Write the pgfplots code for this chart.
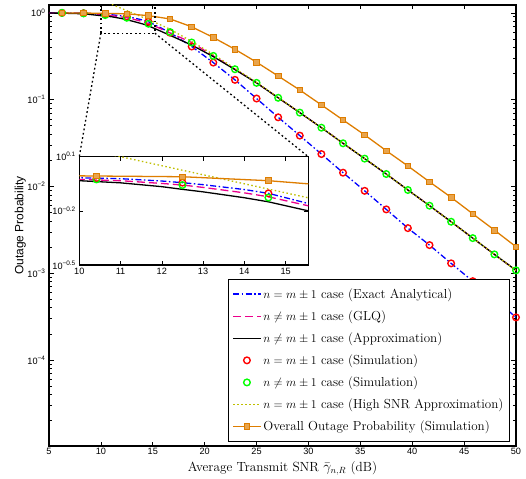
\documentclass[border=0pt]{standalone}
\usepackage{fontspec}
\setsansfont{Liberation Sans}
\usepackage{pgfplots}
\pgfplotsset{compat=1.18}
\usepackage{pgfplotstable}
\definecolor{myorange}{rgb}{0.87,0.49,0.0}
\definecolor{myyellow}{rgb}{0.75,0.75,0.0}
\definecolor{mygreen}{rgb}{0,1,0}
\newcommand\pw[1]{\textsf{10\textsuperscript{#1}}}
\newcommand\tickfont{\sffamily\fontsize{9.2}{11}\selectfont}

\pgfplotstableread{
x y
5 0.998
6.25 0.997
8.333 0.99
10 0.962
11 0.951
12 0.923
12.5 0.904
13 0.881
14 0.828
14.583 0.789
15.55 0.693
16.667 0.59
18.75 0.409
20.833 0.267
22.917 0.169
25 0.103
27.083 0.0626
29.167 0.0385
31.25 0.0236
33.333 0.0144
35.417 0.0089
37.5 0.00544
39.583 0.00331
41.667 0.00211
43.75 0.0013
45.833 0.00081
47.917 0.00051
50 0.00031
}\exact

\pgfplotstableread{
x y
5 0.998
6.25 0.995
8.333 0.982
10 0.942
11 0.927
12 0.895
12.5 0.877
13 0.851
14 0.794
14.583 0.755
15.55 0.673
16.667 0.586
18.75 0.455
20.833 0.319
22.917 0.224
25 0.156
27.083 0.105
29.167 0.0708
31.25 0.0475
33.333 0.0314
35.417 0.0209
37.5 0.0139
39.583 0.0091
41.667 0.0060
43.75 0.00392
45.833 0.00254
47.917 0.00165
50 0.00108
}\glq

\pgfplotstableread{
x y
5 0.994
6.25 0.99
8.333 0.975
10 0.927
11 0.902
12 0.859
12.5 0.830
13 0.804
14 0.746
14.583 0.708
15.55 0.631
16.667 0.55
18.75 0.425
20.833 0.313
22.917 0.222
25 0.156
27.083 0.105
29.167 0.0708
31.25 0.0475
33.333 0.0314
35.417 0.0209
37.5 0.0139
39.583 0.0091
41.667 0.0060
43.75 0.00392
45.833 0.00254
47.917 0.00165
50 0.00108
}\approxi

\pgfplotstableread{
x y
6.25 0.998
8.333 0.99
10.417 0.957
12.5 0.904
14.583 0.789
16.667 0.59
18.75 0.409
20.833 0.267
22.917 0.169
25 0.103
27.083 0.0626
29.167 0.0385
31.25 0.0236
33.333 0.0144
35.417 0.0089
37.5 0.00544
39.583 0.00331
41.667 0.00211
43.75 0.0013
45.833 0.00081
47.917 0.00051
50 0.00031
}\simeqT

\pgfplotstableread{
x y
6.25 0.998
8.333 0.985
10.417 0.942
12.5 0.877
14.583 0.748
16.667 0.60
18.75 0.455
20.833 0.319
22.917 0.224
25 0.156
27.083 0.105
29.167 0.0708
31.25 0.0475
33.333 0.0314
35.417 0.0209
37.5 0.0139
39.583 0.0091
41.667 0.0060
43.75 0.00392
45.833 0.00254
47.917 0.00165
50 0.00108
}\simneT

\pgfplotstableread{
x y
10 1.41
11 1.259
13 1.0
15.55 0.745
16.667 0.646
18.75 0.468
20.833 0.331
22.917 0.229
25 0.158
27.083 0.106
29.167 0.0712
31.25 0.0477
33.333 0.0315
35.417 0.021
37.5 0.0139
39.583 0.0091
41.667 0.006
43.75 0.00392
45.833 0.00254
47.917 0.00165
50 0.00108
}\highsnr

\pgfplotstableread{
x y
6.25 0.998
8.333 0.995
10.417 0.984
12.5 0.975
14.583 0.927
16.667 0.85
18.75 0.69
20.833 0.52
22.917 0.38
25 0.27
27.083 0.187
29.167 0.129
31.25 0.0869
33.333 0.0583
35.417 0.0392
37.5 0.0258
39.583 0.0172
41.667 0.0113
43.75 0.00748
45.833 0.00484
47.917 0.00314
50 0.00202
}\overall

\tikzset{
  blueS/.style={blue, line width=1.3pt, dash pattern=on 6bp off 2.5bp on 1.5bp off 2.5bp},
  magS/.style={magenta, line width=1.3pt, dash pattern=on 8bp off 4bp},
  blkS/.style={black, line width=1.3pt},
  redS/.style={only marks, mark=o, mark size=3.3bp, red, mark options={line width=1.4pt, solid}},
  grnS/.style={only marks, mark=o, mark size=3.3bp, mygreen, mark options={line width=1.4pt, solid}},
  yelS/.style={myyellow, line width=1.3pt, dash pattern=on 1.5bp off 2.5bp},
  oraS/.style={myorange, line width=1.3pt, mark=square*, mark size=2.8bp, mark options={fill=myorange!70!white, draw=myorange, line width=0.8pt, solid}},
  boxS/.style={black, line width=1.3pt, dash pattern=on 1.8bp off 2.6bp},
}

\begin{document}
\begin{tikzpicture}
\path (-49bp,-33bp) rectangle (477bp,446bp);
\begin{axis}[name=main, at={(0,0)}, anchor=south west,
  width=467bp, height=441bp, scale only axis,
  xmin=5, xmax=50, ymode=log, ymin=1.0233e-5, ymax=1.2303,
  xtick={5,10,...,50},
  ytick={1e-4,1e-3,1e-2,1e-1,1},
  yticklabels={\pw{−4},\pw{−3},\pw{−2},\pw{−1},\pw{0}},
  minor ytick={2e-5,3e-5,4e-5,5e-5,6e-5,7e-5,8e-5,9e-5,
    2e-4,3e-4,4e-4,5e-4,6e-4,7e-4,8e-4,9e-4,
    2e-3,3e-3,4e-3,5e-3,6e-3,7e-3,8e-3,9e-3,
    2e-2,3e-2,4e-2,5e-2,6e-2,7e-2,8e-2,9e-2,
    2e-1,3e-1,4e-1,5e-1,6e-1,7e-1,8e-1,9e-1},
  tick align=inside, major tick length=4.5bp, minor tick length=2.5bp,
  tick style={black, line width=0.6pt},
  axis line style={line width=1.1pt},
  ticklabel style={font=\tickfont},
  xticklabel style={yshift=-0.5bp, inner sep=1.5bp},
  /pgf/number format/assume math mode=true,
  xlabel={Average Transmit SNR $\bar{\gamma}_{n,R}$ (dB)},
  xlabel style={font=\fontsize{13.3}{15}\selectfont, at={(axis description cs:0.5,-0.0345)}, anchor=north, inner sep=0pt},
  ylabel={Outage Probability},
  ylabel style={font=\sffamily\fontsize{12}{14}\selectfont, at={(axis description cs:-0.049,0.5)}, anchor=south, inner sep=0pt},
  legend style={at={(axis description cs:0.987,0.0098)}, anchor=south east,
    font=\fontsize{13.1}{15.5}\selectfont, draw=black, line width=1pt,
    inner xsep=4bp, inner ysep=7bp, row sep=6.8bp, cells={anchor=west}},
  legend image code/.code={\draw[#1, mark repeat=2, mark phase=2] plot coordinates {(0bp,0bp) (13.8bp,0bp) (27.6bp,0bp)};},
]
\addplot[blueS] table {\exact};
\addlegendentry{$n=m\pm1$ case (Exact Analytical)}
\addplot[magS] table {\glq};
\addlegendentry{$n\neq m\pm1$ case (GLQ)}
\addplot[blkS] table {\approxi};
\addlegendentry{$n\neq m\pm1$ case (Approximation)}
\addplot[redS] table {\simeqT};
\addlegendentry{$n=m\pm1$ case (Simulation)}
\addplot[grnS] table {\simneT};
\addlegendentry{$n\neq m\pm1$ case (Simulation)}
\addplot[yelS] table {\highsnr};
\addlegendentry{$n=m\pm1$ case (High SNR Approximation)}
\addplot[oraS] table {\overall};
\addlegendentry{Overall Outage Probability (Simulation)}
\draw[boxS] (axis cs:10,0.583) rectangle (axis cs:15.2,1.215);
\coordinate (rbl) at (axis cs:10,0.583);
\coordinate (rbr) at (axis cs:15.2,0.583);
\end{axis}
\begin{axis}[name=inset, at={(30.3bp,181bp)}, anchor=south west,
  width=229bp, height=108.3bp, scale only axis,
  xmin=10, xmax=15.55, ymode=log, ymin=0.316228, ymax=1.258925,
  xtick={10,11,12,13,14,15},
  ytick={0.316228,0.630957,1.258925},
  yticklabels={\pw{−0.5},\pw{−0.2},\pw{0.1}},
  axis background/.style={fill=white},
  tick align=inside, major tick length=4bp,
  tick style={black, line width=0.6pt},
  axis line style={line width=1.1pt},
  ticklabel style={font=\tickfont},
  /pgf/number format/assume math mode=true,
]
\addplot[blueS] table {\exact};
\addplot[magS] table {\glq};
\addplot[blkS] table {\approxi};
\addplot[redS] table {\simeqT};
\addplot[grnS] table {\simneT};
\addplot[yelS] table {\highsnr};
\addplot[oraS] table {\overall};
\end{axis}
\draw[boxS] (rbl) -- (inset.north west);
\draw[boxS] (rbr) -- (inset.north east);
\end{tikzpicture}
\end{document}
